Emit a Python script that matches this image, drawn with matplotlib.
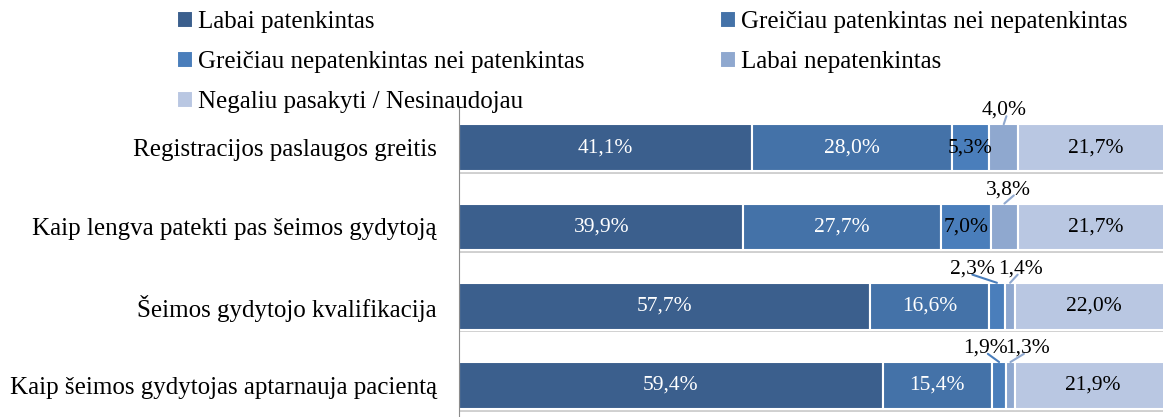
import matplotlib
matplotlib.use("Agg")
import matplotlib.pyplot as plt
import numpy as np

plt.rcParams['font.family'] = ['Liberation Serif', 'DejaVu Serif']

categories = ['Registracijos paslaugos greitis',
              'Kaip lengva patekti pas šeimos gydytoją',
              'Šeimos gydytojo kvalifikacija',
              'Kaip šeimos gydytojas aptarnauja pacientą']
series = ['Labai patenkintas',
          'Greičiau patenkintas nei nepatenkintas',
          'Greičiau nepatenkintas nei patenkintas',
          'Labai nepatenkintas',
          'Negaliu pasakyti / Nesinaudojau']
labai_pat = [41.1, 39.9, 57.7, 59.4]
greic_pat = [28.0, 27.7, 16.6, 15.4]
greic_nepat = [5.3, 7.0, 2.3, 1.9]
labai_nepat = [4.0, 3.8, 1.4, 1.3]
negaliu = [21.7, 21.7, 22.0, 21.9]

colors = ['#3b5f8d', '#4472a8', '#4a7ebb', '#8fa8cf', '#b9c7e2']
txt_colors = ['white', 'white', 'black', 'black', 'black']

data = np.array([labai_pat, greic_pat, greic_nepat, labai_nepat, negaliu])
y = np.arange(len(categories))
h = 0.59

fig = plt.figure(figsize=(11.63, 4.17), dpi=100)
ax = fig.add_axes([0.3947, -0.0192, 0.613, 0.760])

# soft shadow under each bar
ax.barh(y + 0.035, data.sum(axis=0), height=h, color='#d0d0d0', zorder=1)

handles = []
left = np.zeros(len(categories))
for i, vals in enumerate(data):
    b = ax.barh(y, vals, height=h, left=left, color=colors[i],
                edgecolor='white', linewidth=1.5, label=series[i], zorder=2)
    handles.append(b)
    for j, v in enumerate(vals):
        c = left[j] + v / 2
        if v >= 5:
            ax.text(c, y[j], f'{v:.1f}%'.replace('.', ','), ha='center', va='center',
                    color=txt_colors[i], fontsize=15.5, zorder=3)
    left += vals

# small values get a label above with a leader line
small = [(0, 3, 76.4, 0.56), (1, 3, 77.0, 0.63),
         (2, 2, 72.0, 0.5), (2, 3, 78.8, 0.43),
         (3, 2, 73.8, 0.56), (3, 3, 79.8, 0.41)]
for j, i, tx, rx in small:
    v = data[i][j]
    c = data[:i, j].sum() + v / 2
    ax.annotate(f'{v:.1f}%'.replace('.', ','), xy=(c, y[j] - h / 2), xytext=(tx, y[j] - 0.47),
                ha='center', va='center', fontsize=15.5, color='black',
                arrowprops=dict(arrowstyle='-', color=colors[i], lw=1.5, patchA=None,
                                relpos=(rx, 0.2), shrinkA=0, shrinkB=0))

ax.set_xlim(0, 100)
ax.set_ylim(3.5, -0.5)
ax.set_yticks(y)
ax.set_yticklabels(categories, fontsize=18)
ax.tick_params(axis='y', length=0, pad=16)
ax.set_xticks([])
for s in ['top', 'right', 'bottom']:
    ax.spines[s].set_visible(False)
ax.spines['left'].set_color('#8c8c8c')

order = [0, 2, 4, 1, 3]
fig.legend([handles[k] for k in order], [series[k] for k in order], ncol=2,
           loc='upper left', bbox_to_anchor=(0.137, 1.015), frameon=False,
           fontsize=18, handlelength=0.65, handleheight=0.65, handletextpad=0.2,
           labelspacing=0.71, columnspacing=5.4, borderpad=0.2)

fig.savefig('out.png', dpi=100)
